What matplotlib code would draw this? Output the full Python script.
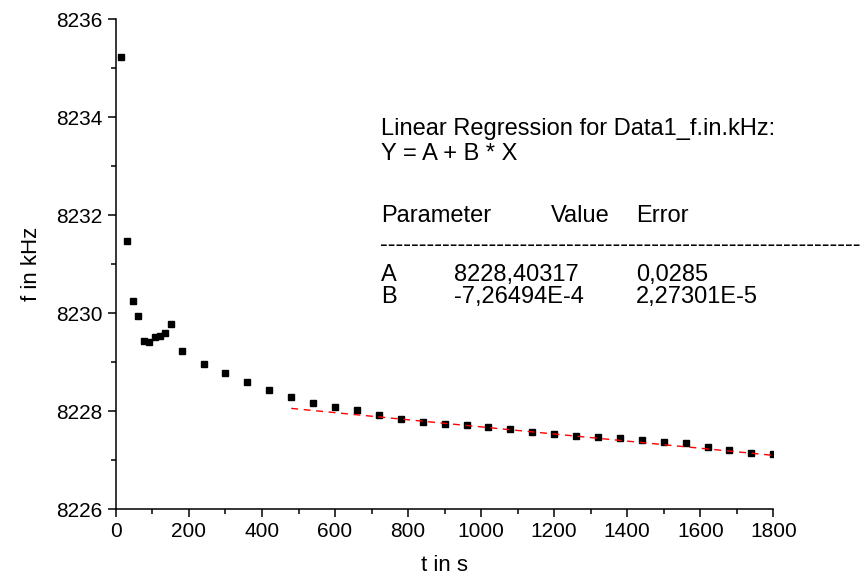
import numpy as np
import matplotlib.pyplot as plt

plt.rcParams['font.family'] = ['Liberation Sans', 'DejaVu Sans']

t = [15, 30, 47, 60, 77, 90, 106, 120, 135, 150, 180, 240, 300, 360, 420, 480,
     540, 600, 660, 720, 780, 840, 900, 960, 1020, 1080, 1140, 1200, 1260,
     1320, 1380, 1440, 1500, 1560, 1620, 1680, 1740, 1800]
f = [8235.22, 8231.47, 8230.25, 8229.95, 8229.43, 8229.41, 8229.51, 8229.54,
     8229.59, 8229.77, 8229.23, 8228.97, 8228.77, 8228.59, 8228.43, 8228.28,
     8228.17, 8228.09, 8228.02, 8227.91, 8227.83, 8227.77, 8227.73, 8227.71,
     8227.67, 8227.63, 8227.57, 8227.53, 8227.50, 8227.47, 8227.46, 8227.41,
     8227.37, 8227.35, 8227.26, 8227.21, 8227.15, 8227.12]

# linear fit parameters
A = 8228.40317
B = -7.26494e-4
fit_range = [480, 1800]

fig = plt.figure(figsize=(8.65, 5.82), dpi=100)
ax = fig.add_axes([0.134, 0.1254, 0.76, 0.8416])

ax.plot(t, f, 's', color='black', ms=4.5, mec='black')
xs = np.array(fit_range)
ax.plot(xs, A + B * xs, color='red', lw=1, dashes=(5, 4))

ax.set_xlim(0, 1800)
ax.set_ylim(8226, 8236)
ax.set_xticks(np.arange(0, 1801, 200))
ax.set_xticks(np.arange(100, 1800, 200), minor=True)
ax.set_yticks(np.arange(8226, 8237, 2))
ax.set_yticks(np.arange(8227, 8236, 2), minor=True)
ax.tick_params(which='major', direction='out', length=6, width=1.1, labelsize=15)
ax.tick_params(which='minor', direction='out', length=3.5, width=1.1)
for s in ['top', 'right']:
    ax.spines[s].set_visible(False)
for s in ['left', 'bottom']:
    ax.spines[s].set_linewidth(1.1)

ax.set_xlabel('t in s', fontsize=16, labelpad=10)
ax.set_ylabel('f in kHz', fontsize=16, labelpad=10)

# regression report
fs = 17
def txt(x, y, s):
    fig.text(x / 865, 1 - y / 582, s, fontsize=fs, va='center', ha='left')

txt(381, 129, 'Linear Regression for Data1_f.in.kHz:')
txt(381, 154, 'Y = A + B * X')
txt(381, 216, 'Parameter')
txt(551, 216, 'Value')
txt(636, 216, 'Error')
txt(380, 245, '-' * 62)
txt(381, 275, 'A')
txt(454, 275, '8228,40317')
txt(636, 275, '0,0285')
txt(381, 297, 'B')
txt(454, 297, '-7,26494E-4')
txt(636, 297, '2,27301E-5')

fig.savefig('out.png', dpi=100)
